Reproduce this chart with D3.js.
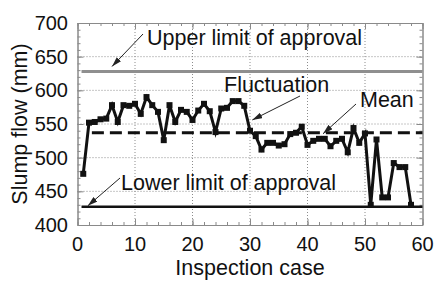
<!DOCTYPE html>
<html>
<head>
<meta charset="utf-8">
<script src="https://cdn.jsdelivr.net/npm/d3@7"></script>
<style>
  body { margin: 0; background: #fff; }
  text { font-family: "Liberation Sans", Arial, sans-serif; fill: #111; }
</style>
</head>
<body>
<script>
// inspection data
var caseNo = [1, 2, 3, 4, 5, 6, 7, 8, 9, 10, 11, 12, 13, 14, 15, 16, 17, 18, 19, 20,
              21, 22, 23, 24, 25, 26, 27, 28, 29, 30, 31, 32, 33, 34, 35, 36, 37, 38, 39, 40,
              41, 42, 43, 44, 45, 46, 47, 48, 49, 50, 51, 52, 53, 54, 55, 56, 57, 58];
var slumpFlow = [476, 552, 553, 557, 558, 578, 553, 578, 577, 580, 565, 590, 578, 568, 526, 578, 553, 571, 568, 556,
                 570, 580, 569, 538, 573, 574, 584, 584, 577, 540, 532, 512, 522, 522, 518, 520, 535, 537, 546, 519,
                 525, 528, 528, 517, 525, 528, 508, 544, 522, 536, 430, 527, 441, 441, 492, 486, 486, 430];

var upperLimit = 628;
var lowerLimit = 427;
var meanValue = 537;

var xTicks = [0, 10, 20, 30, 40, 50, 60];
var yTicks = [400, 450, 500, 550, 600, 650, 700];
var xTitle = "Inspection case";
var yTitle = "Slump flow (mm)";
var notes = ["Upper limit of approval", "Fluctuation", "Mean", "Lower limit of approval"];

var width = 436, height = 282;

var x = d3.scaleLinear().domain([0, 60]).range([77.5, 422.5]);
var y = d3.scaleLinear().domain([400, 700]).range([225, 23]);

var svg = d3.select("body").append("svg")
    .attr("width", width)
    .attr("height", height);

svg.append("defs").append("marker")
    .attr("id", "head")
    .attr("viewBox", "0 0 10 6")
    .attr("refX", 10)
    .attr("refY", 3)
    .attr("markerWidth", 10)
    .attr("markerHeight", 6)
    .attr("markerUnits", "userSpaceOnUse")
    .attr("orient", "auto")
    .append("path")
    .attr("d", "M0,0L10,3L0,6Z")
    .attr("fill", "#222");

// grid
var grid = svg.append("g").attr("class", "grid");
grid.selectAll(".gx")
    .data(xTicks.slice(1, -1))
    .enter().append("line")
    .attr("x1", function(d) { return x(d); })
    .attr("x2", function(d) { return x(d); })
    .attr("y1", y(400)).attr("y2", y(700))
    .attr("stroke", "#8c8c8c").attr("stroke-dasharray", "1,2");
grid.selectAll(".gy")
    .data(yTicks.slice(1, -1))
    .enter().append("line")
    .attr("y1", function(d) { return y(d); })
    .attr("y2", function(d) { return y(d); })
    .attr("x1", x(0)).attr("x2", x(60))
    .attr("stroke", "#8c8c8c").attr("stroke-dasharray", "1,2");

// frame with inward ticks on all four sides
var xMinor = d3.range(0, 61, 2), yMinor = d3.range(400, 701, 10);
function addAxis(axis, tr) {
    var g = svg.append("g").attr("transform", tr).call(axis);
    g.select(".domain").attr("stroke", "#8a8a8a");
    g.selectAll(".tick line").attr("stroke", "#8a8a8a");
    g.selectAll("text").remove();
    return g;
}
addAxis(d3.axisBottom(x).tickValues(xMinor).tickSize(-3).tickSizeOuter(0), "translate(0," + y(400) + ")");
addAxis(d3.axisBottom(x).tickValues(xTicks).tickSize(-6).tickSizeOuter(0), "translate(0," + y(400) + ")");
addAxis(d3.axisTop(x).tickValues(xMinor).tickSize(-3).tickSizeOuter(0), "translate(0," + y(700) + ")");
addAxis(d3.axisTop(x).tickValues(xTicks).tickSize(-6).tickSizeOuter(0), "translate(0," + y(700) + ")");
addAxis(d3.axisLeft(y).tickValues(yMinor).tickSize(-3).tickSizeOuter(0), "translate(" + x(0) + ",0)");
addAxis(d3.axisLeft(y).tickValues(yTicks).tickSize(-6).tickSizeOuter(0), "translate(" + x(0) + ",0)");
addAxis(d3.axisRight(y).tickValues(yMinor).tickSize(-3).tickSizeOuter(0), "translate(" + x(60) + ",0)");
addAxis(d3.axisRight(y).tickValues(yTicks).tickSize(-6).tickSizeOuter(0), "translate(" + x(60) + ",0)");

// tick labels
svg.append("g").selectAll("text")
    .data(yTicks)
    .enter().append("text")
    .attr("x", 68)
    .attr("y", function(d) { return y(d); })
    .attr("dy", "0.35em")
    .attr("text-anchor", "end")
    .style("font-size", "20px")
    .text(function(d) { return d; });
svg.append("g").selectAll("text")
    .data(xTicks)
    .enter().append("text")
    .attr("x", function(d) { return x(d); })
    .attr("y", 251)
    .attr("text-anchor", "middle")
    .style("font-size", "20px")
    .text(function(d) { return d; });

svg.append("text")
    .attr("x", x(30)).attr("y", 275)
    .attr("text-anchor", "middle")
    .style("font-size", "21.5px")
    .text(xTitle);
svg.append("text")
    .attr("transform", "translate(27," + y(550) + ") rotate(-90)")
    .attr("text-anchor", "middle")
    .style("font-size", "21.5px")
    .text(yTitle);

// approval limits and mean
svg.append("line")
    .attr("x1", x(0.7)).attr("x2", x(60))
    .attr("y1", y(upperLimit)).attr("y2", y(upperLimit))
    .attr("stroke", "#8f8f8f").attr("stroke-width", 3);
svg.append("line")
    .attr("x1", x(0.7)).attr("x2", x(60))
    .attr("y1", y(lowerLimit)).attr("y2", y(lowerLimit))
    .attr("stroke", "#111").attr("stroke-width", 2.5);
svg.append("line")
    .attr("x1", x(2.5)).attr("x2", x(60))
    .attr("y1", y(meanValue)).attr("y2", y(meanValue))
    .attr("stroke", "#111").attr("stroke-width", 3)
    .attr("stroke-dasharray", "12,6");

// fluctuation series
var series = caseNo.map(function(c, i) { return { c: c, v: slumpFlow[i] }; });
var line = d3.line()
    .x(function(d) { return x(d.c); })
    .y(function(d) { return y(d.v); });
svg.append("path")
    .datum(series)
    .attr("d", line)
    .attr("fill", "none")
    .attr("stroke", "#111")
    .attr("stroke-width", 3)
    .attr("stroke-linejoin", "miter");
svg.append("g").selectAll("rect")
    .data(series)
    .enter().append("rect")
    .attr("x", function(d) { return x(d.c) - 3; })
    .attr("y", function(d) { return y(d.v) - 3; })
    .attr("width", 6)
    .attr("height", 6)
    .attr("fill", "#111");

// annotations
function note(txt, tx, ty, ax1, ay1, ax2, ay2) {
    svg.append("text")
        .attr("x", tx).attr("y", ty)
        .style("font-size", "21.5px")
        .text(txt);
    svg.append("line")
        .attr("x1", ax1).attr("y1", ay1)
        .attr("x2", ax2).attr("y2", ay2)
        .attr("stroke", "#222").attr("stroke-width", 1)
        .attr("marker-end", "url(#head)");
}
note(notes[0], 147, 45, 143, 34, 112, y(upperLimit) - 5);
note(notes[1], 224, 92, 300, 96, x(30.4), y(556));
note(notes[2], 360, 107, 356, 104, x(42.7), y(meanValue) + 1);
note(notes[3], 121, 190, 120, 178, x(1.8), y(lowerLimit) - 1);
</script>
</body>
</html>
